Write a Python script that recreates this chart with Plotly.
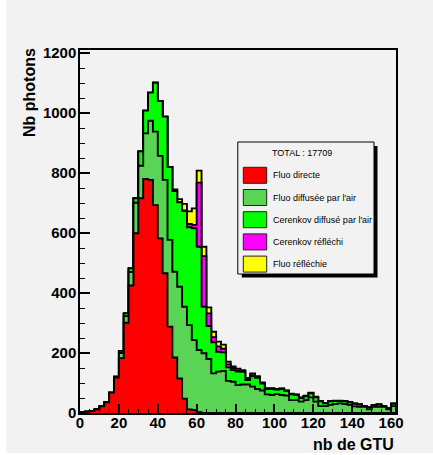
import numpy as np
import plotly.graph_objects as go

# ---------------- data (photons per 2.5-GTU bin, 0 .. 162.5 GTU) ----------------
bin_width = 2.5
n_bins = 65

fluo_directe = [2, 4, 7, 12, 22, 36, 68, 118, 183, 301, 425, 599, 716, 780, 777, 693,
                582, 466, 288, 185, 115, 48, 12, 10, 3, 0, 0, 0, 0, 0, 0, 0,
                0, 0, 0, 0, 0, 0, 0, 0, 0, 0, 0, 0, 0, 0, 0, 0,
                0, 0, 0, 0, 0, 0, 0, 0, 0, 0, 0, 0, 0, 0, 0, 0, 0]
fluo_diffusee = [0, 0, 0, 0, 0, 0, 0, 2, 17, 22, 45, 102, 108, 152, 197, 245,
                 275, 311, 289, 286, 306, 306, 281, 233, 207, 199, 180, 132, 138, 140, 107, 104,
                 93, 95, 95, 88, 80, 75, 62, 60, 63, 60, 58, 43, 43, 38, 43, 52,
                 38, 23, 23, 27, 30, 32, 30, 27, 22, 21, 21, 12, 21, 21, 21, 12, 23]
cerenkov_diffuse = [0, 0, 0, 0, 0, 0, 0, 1, 7, 9, 12, 15, 48, 76, 94, 163,
                    183, 211, 243, 269, 281, 319, 326, 373, 344, 155, 110, 104, 66, 62, 45, 39,
                    45, 42, 15, 34, 37, 23, 18, 20, 15, 20, 15, 19, 17, 12, 13, 14,
                    14, 16, 9, 12, 10, 8, 9, 9, 9, 7, 1, 6, 5, 7, 1, 3, 8]
cerenkov_reflechi = [0, 0, 0, 0, 0, 0, 0, 0, 0, 0, 0, 0, 0, 0, 0, 0,
                     0, 0, 0, 1, 1, 2, 11, 11, 214, 169, 42, 17, 18, 12, 10, 7,
                     4, 3, 3, 4, 2, 2, 1, 1, 1, 1, 1, 1, 1, 1, 1, 1,
                     1, 0, 0, 0, 0, 0, 0, 0, 0, 0, 0, 0, 0, 0, 0, 0, 0]
fluo_reflechie = [0, 0, 0, 0, 0, 0, 0, 0, 0, 0, 0, 0, 0, 0, 0, 0,
                  0, 0, 0, 4, 10, 22, 42, 55, 40, 31, 20, 18, 16, 14, 9, 5,
                  6, 3, 4, 6, 4, 2, 2, 2, 1, 1, 1, 1, 1, 1, 1, 1,
                  1, 1, 1, 1, 1, 1, 1, 1, 1, 1, 1, 1, 1, 1, 1, 1, 1]

series_names = ["Fluo directe", "Fluo diffusée par l'air", "Cerenkov diffusé par l'air",
                "Cerenkov réfléchi", "Fluo réfléchie"]
series_colors = ["#ff0000", "#59d454", "#00ff00", "#ff00ff", "#ffff00"]
total_label = "TOTAL : 17709"

x_ticks = [0, 20, 40, 60, 80, 100, 120, 140, 160]
y_ticks = [0, 200, 400, 600, 800, 1000, 1200]

# ---------------- figure ----------------
W, H = 433, 455
ML, MR, MT, MB = 80, 37, 50, 42
BG = "#f2f2f2"
FONT = "Liberation Sans, Arial, Helvetica, sans-serif"

edges = np.arange(n_bins + 1) * bin_width
stack = np.cumsum(np.array([fluo_directe, fluo_diffusee, cerenkov_diffuse,
                            cerenkov_reflechi, fluo_reflechie], dtype=float), axis=0)

fig = go.Figure()
xs = np.concatenate([[0.0], edges[:-1], [edges[-1], edges[-1]]])
for k in reversed(range(len(series_names))):
    y = stack[k]
    ys = np.concatenate([[0.0], y, [y[-1], 0.0]])
    fig.add_trace(go.Scatter(
        x=xs, y=ys, mode="lines", line=dict(shape="hv", color="black", width=1.9),
        fill="tozeroy", fillcolor=series_colors[k], name=series_names[k],
        showlegend=False, hoverinfo="skip"))

pw = W - ML - MR
ph = H - MT - MB


def px(xp):
    return (xp - ML) / pw


def py(yp):
    return (H - MB - yp) / ph


shapes = []
annotations = []

# grey canvas (white border on the left and bottom)
shapes.append(dict(type="rect", xref="paper", yref="paper", layer="below",
                   x0=px(6), x1=px(W + 2), y0=py(453), y1=py(-2),
                   fillcolor=BG, line=dict(width=0)))

# legend box with shadow
lx0, lx1, ly0, ly1 = 237.8, 374.0, 142.0, 274.0
shapes.append(dict(type="rect", xref="paper", yref="paper", x0=px(lx0 + 4), x1=px(lx1 + 3.5),
                   y0=py(ly1 + 3.5), y1=py(ly0 + 4), fillcolor="black", line=dict(width=0)))
shapes.append(dict(type="rect", xref="paper", yref="paper", x0=px(lx0), x1=px(lx1),
                   y0=py(ly1), y1=py(ly0), fillcolor=BG, line=dict(color="black", width=1)))
annotations.append(dict(xref="paper", yref="paper", x=px(301.7), y=py(153.3), text=total_label,
                        showarrow=False, xanchor="center", yanchor="middle",
                        font=dict(family=FONT, size=9, color="black")))
for k, (name, col) in enumerate(zip(series_names, series_colors)):
    cy = 175.3 + 22.2 * k
    shapes.append(dict(type="rect", xref="paper", yref="paper", x0=px(243.3), x1=px(266.7),
                       y0=py(cy + 8), y1=py(cy - 8), fillcolor=col,
                       line=dict(color="#222222", width=1)))
    annotations.append(dict(xref="paper", yref="paper", x=px(271.0), y=py(cy), text=name,
                            showarrow=False, xanchor="left", yanchor="middle",
                            font=dict(family=FONT, size=9, color="black")))

# axis titles
annotations.append(dict(xref="paper", yref="paper", x=1, y=0, yshift=-31, text="nb de GTU",
                        showarrow=False, xanchor="right", yanchor="middle",
                        font=dict(family=FONT, size=16, color="black", weight="bold")))
annotations.append(dict(xref="paper", yref="paper", x=0, xshift=-51, y=py(93), text="Nb photons",
                        textangle=-90, showarrow=False, xanchor="center", yanchor="middle",
                        font=dict(family=FONT, size=16, color="black", weight="bold")))

fig.update_layout(
    width=W, height=H, margin=dict(l=ML, r=MR, t=MT, b=MB, pad=0),
    paper_bgcolor="white", plot_bgcolor=BG, showlegend=False,
    shapes=shapes, annotations=annotations,
    xaxis=dict(range=[0, n_bins * bin_width], tickvals=x_ticks, ticktext=[str(v) for v in x_ticks],
               ticks="inside", ticklen=9, tickwidth=1.5, tickcolor="black",
               minor=dict(dtick=5, tick0=0, ticks="inside", ticklen=4.5, tickwidth=1.2, tickcolor="black"),
               showline=True, linecolor="black", linewidth=1.5, mirror=True,
               showgrid=False, zeroline=False, layer="above traces", ticklabelstandoff=-5,
               tickfont=dict(family=FONT, size=15, color="black", weight="bold")),
    yaxis=dict(range=[0, 1210], tickvals=y_ticks, ticktext=[str(v) for v in y_ticks],
               ticks="inside", ticklen=10, tickwidth=1.5, tickcolor="black",
               minor=dict(dtick=50, tick0=0, ticks="inside", ticklen=5, tickwidth=1.2, tickcolor="black"),
               showline=True, linecolor="black", linewidth=1.5, mirror=True,
               showgrid=False, zeroline=False, layer="above traces", ticklabelstandoff=-1,
               tickfont=dict(family=FONT, size=15, color="black", weight="bold")),
)

fig.write_html("out.html")
